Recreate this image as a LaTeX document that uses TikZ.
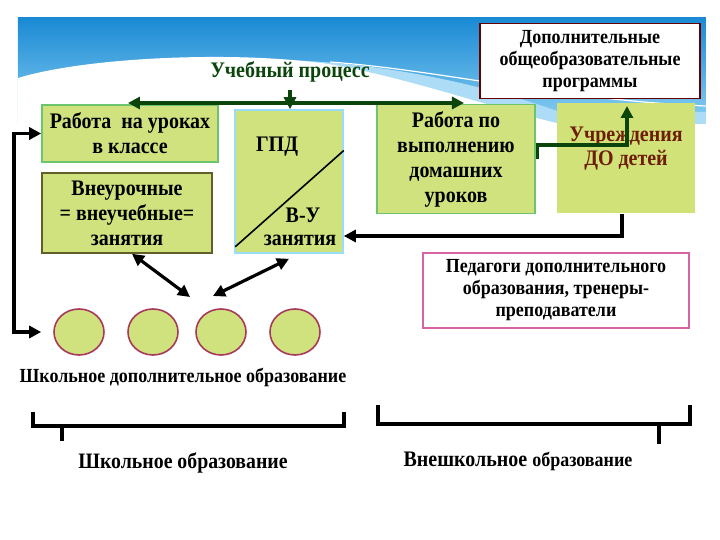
\documentclass[tikz,border=0pt]{standalone}
\usepackage{fontspec}
\setmainfont[FakeStretch=0.9]{Liberation Serif}
\usetikzlibrary{arrows.meta,shapes.geometric}
\definecolor{lime}{HTML}{CFE27E}
\definecolor{limeedge}{HTML}{6CC46C}
\definecolor{dkgreen}{HTML}{0C450C}
\definecolor{skytop}{HTML}{1A8AD4}
\definecolor{skylow}{HTML}{8ACFF2}
\definecolor{brick}{HTML}{6E1E08}
\definecolor{blobedge}{HTML}{A8385A}
\tikzset{every picture/.style={line width=0.8pt}}
\tikzset{
  limebox/.style={draw=limeedge, rectangle, fill=lime, align=center, font=\bfseries\fontsize{11.1}{12.5}\selectfont},
  whitebox/.style={draw, rectangle, fill=white, align=center, font=\bfseries\fontsize{10}{11}\selectfont},
  blob/.style={draw=blobedge, ellipse, fill=lime, minimum width=25pt, minimum height=23pt},
  label/.style={font=\bfseries\fontsize{11.1}{12}\selectfont}
}
\begin{document}
\begin{tikzpicture}[x=0.5pt, y=-0.5pt, >={Triangle[length=6pt,width=6pt]}]
\useasboundingbox (0,0) rectangle (720,540);
    % sky background
\shade[top color=skytop, bottom color=skylow] (18,18) rectangle (706,124);
\fill[skylow!70!white] (250,60) .. controls (360,58) and (470,80) .. (560,112) -- (706,112) -- (706,124) -- (250,124) -- cycle;
\fill[white] (18,78) .. controls (90,56) and (250,50) .. (340,66) .. controls (420,82) and (480,104) .. (560,124) -- (18,124) -- cycle;
\draw[white, line width=0.6pt] (330,62) .. controls (440,70) and (560,100) .. (706,106);

    % title and upper box
\node[label, text=dkgreen] (UP) at (290,72) {Учебный процесс};
\node[whitebox, draw=red!40!black, minimum width=110pt, minimum height=36pt] (DOP) at (590,61) {Дополнительные\\общеобразовательные\\программы};

    % green boxes
\node[limebox, minimum width=88pt, minimum height=28.5pt] (UROK) at (130,133.5) {Работа\ \ на уроках\\в классе};
\node[limebox, draw=olive!60!black, minimum width=85pt, minimum height=40pt] (VNE) at (127,213) {Внеурочные\\= внеучебные=\\занятия};
\node[limebox, draw=cyan!40, minimum width=54pt, minimum height=71.5pt] (GPD) at (289,181.5) {};
\node[label] (GPDT) at (277,147) {ГПД};
\node[label] (VU) at (303,215) {В-У};
\node[label] (ZAN) at (300,240) {занятия};
\draw[thick] ([shift={(1,-7)}]GPD.south west) -- ([shift={(0,-31)}]GPD.east);
\node[limebox, minimum width=79pt, minimum height=54pt] (DOM) at (456,159) {Работа по\\выполнению\\домашних\\уроков};
\node[rectangle, fill=lime!95!yellow, minimum width=69pt, minimum height=55pt] (UCHR) at (626,158) {};
\node[label, text=brick, align=center] (UCHRT) at (626,149) {Учреждения\\ДО детей};

    % right box
\node[whitebox, draw=magenta!60!violet!70, minimum width=133pt, minimum height=36.5pt] (PED) at (556,290.5) {Педагоги дополнительного\\образования, тренеры-\\преподаватели};

    % circles
\node[blob] (C1) at (79,332) {};
\node[blob] (C2) at (153,332) {};
\node[blob] (C3) at (221,332) {};
\node[blob] (C4) at (295,332) {};
\node[label, font=\bfseries\fontsize{10}{11}\selectfont] (SHD) at (183,377) {Школьное дополнительное образование};

    % braces
\draw[line width=1.6pt] (33,412) -- (33,426) -- (344,426) -- (344,412);
\draw[line width=1.6pt] (62,426) -- (62,441);
\draw[line width=1.6pt] (378,405) -- (378,424) -- (690,424) -- (690,405);
\draw[line width=1.6pt] (659,424) -- (659,444);
\node[label, font=\bfseries\fontsize{11}{12}\selectfont] (SHK) at (183,463) {Школьное образование};
\node[label] (VSHK) at (518,461) {Внешкольное {\fontsize{10}{11}\selectfont образование}};

    % connections
\coordinate (HL) at (128,103);
\coordinate (HR) at (464,103);
\coordinate (K1) at (627,145);
\coordinate (K2) at (627,106);
\coordinate (KB) at (622,236);
\coordinate (LP) at (14,230);
\coordinate (M1) at (190,297);
\coordinate (M2) at (213,296);
\draw[<->, dkgreen, line width=2.4pt] (HL) -- (HR);
\draw[->, dkgreen, line width=1.6pt] (UP) -- (UP |- GPD.north);
\draw[->, dkgreen, line width=1.6pt] ([xshift=1pt]DOM.east) |- (K1) -- (K2);
\draw[->, line width=1.6pt] (UCHR.south -| KB) -- (KB) -- (KB -| GPD.east);
\draw[<->, line width=1.6pt] (UROK.west) -| (LP) |- ([xshift=-6pt]C1.west);
\draw[<->, line width=1.6pt] ([xshift=2.5pt]VNE.south) -- (M1);
\draw[<->, line width=1.6pt] ([yshift=-2.5pt]GPD.south) -- (M2);
\end{tikzpicture}
\end{document}
